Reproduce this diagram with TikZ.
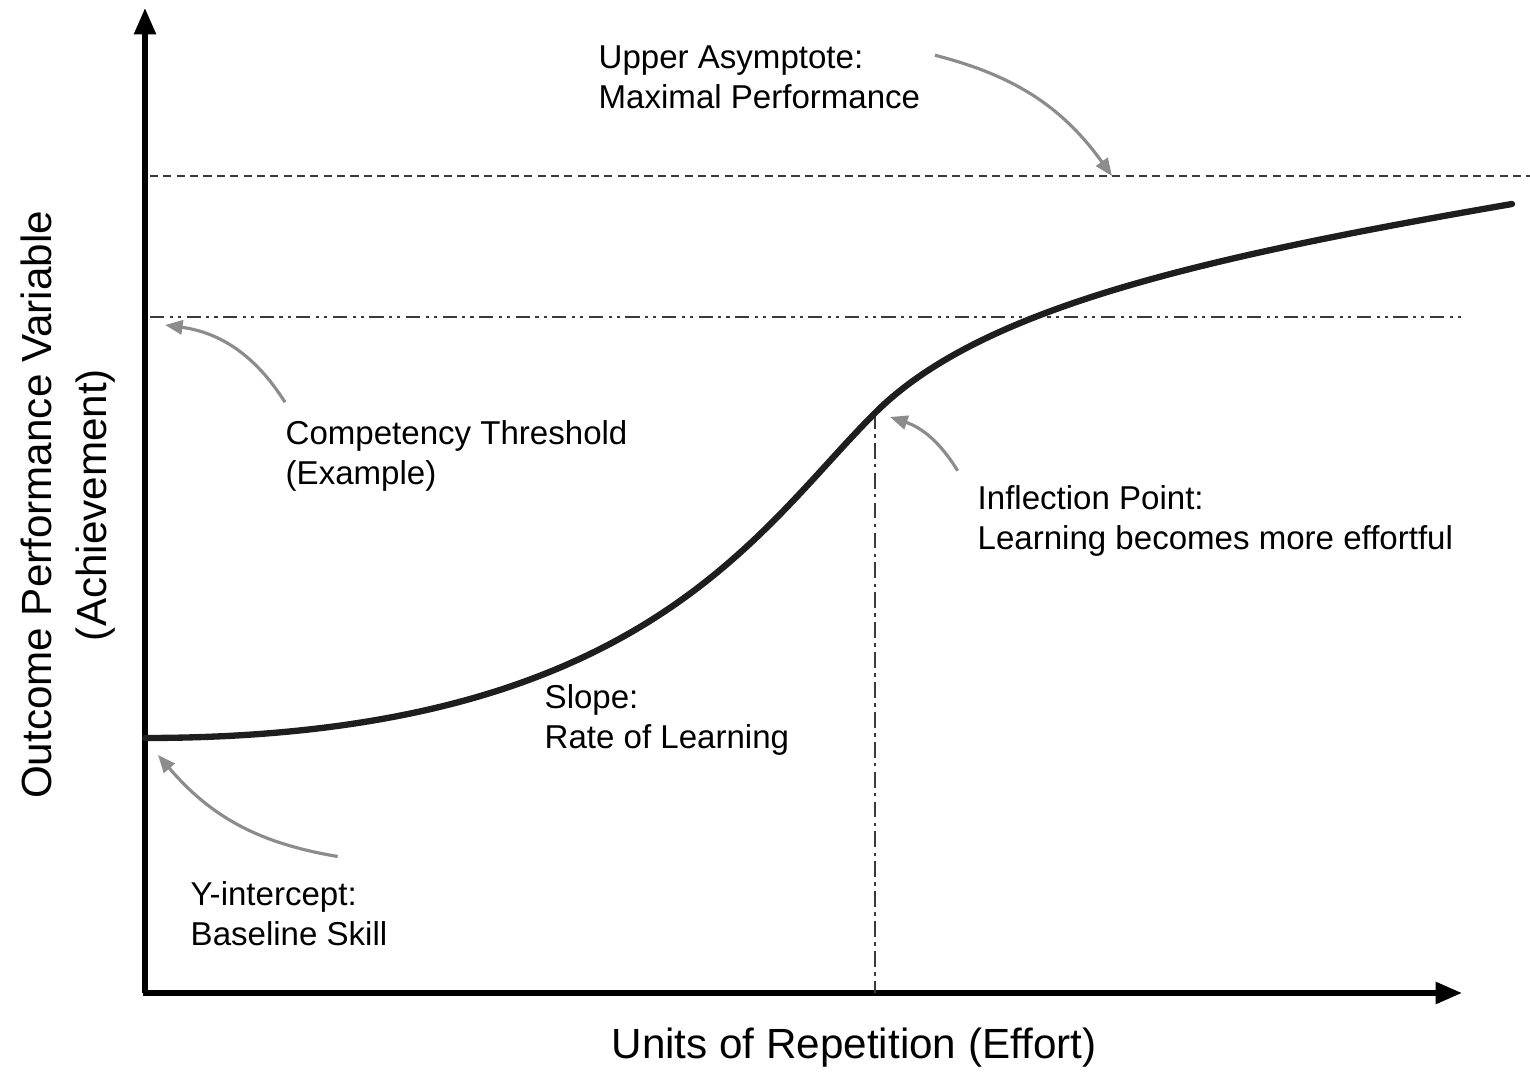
\documentclass[tikz,border=0pt]{standalone}
\usepackage{fontspec}
\setmainfont{Liberation Sans}
\usepackage{tikz}
\usetikzlibrary{
  arrows.meta,
  positioning,
  calc
}
\definecolor{lcAxis}{HTML}{000000}
\definecolor{lcCurve}{HTML}{1E1E1E}
\definecolor{lcNote}{HTML}{8C8C8C}
\definecolor{lcGuide}{HTML}{3A3A3A}

\begin{document}
\begin{tikzpicture}[x=0.01cm, y=-0.01cm,
  axis/.style={line width=1.5pt, lcAxis, -{Triangle[length=7.5pt, width=6pt]}},
  curve/.style={line width=1.8pt, lcCurve, line cap=round},
  guide/.style={line width=0.7pt, lcGuide},
  note/.style={line width=0.9pt, lcNote, -{Triangle[length=5pt, width=4pt]}},
  lbl/.style={font=\fontsize{9.4}{11.4}\selectfont, align=left, inner sep=0pt, anchor=west},
  axlbl/.style={font=\fontsize{12}{15.6}\selectfont, align=center, inner sep=0pt}]
  \useasboundingbox (0,0) rectangle (1530,1074);
  % axes
  \coordinate (o) at (145,993);
  \coordinate (ytop) at (145,8);
  \coordinate (xend) at (1462,993);
  \draw[axis] (o) -- (ytop);
  \draw[axis] ([xshift=-0.7pt]o) -- (xend);
  % guide lines
  \draw[guide, dash pattern=on 2.3pt off 1.5pt] (150,176) -- (1530,176);
  \draw[guide, dash pattern=on 4pt off 1.6pt on 0.9pt off 1.4pt on 0.9pt off 1.6pt]
    (150,317) -- (1465,317);
  \coordinate (infl) at (875,413);
  \draw[guide, dash pattern=on 4.5pt off 1.5pt on 1pt off 1.5pt] (infl) -- (infl |- o);
  % learning curve
  \coordinate (base) at (145,738);
  \coordinate (top) at (1512,204);
  \draw[curve] (base) .. controls (640,738) and (755,533) .. (infl)
    .. controls (980,308) and (1200,258) .. (top);
  % labels
  \node[lbl] (lblAsym) at (598,77) {Upper Asymptote:\\Maximal Performance};
  \node[lbl] (lblComp) at (285,456) {Competency Threshold\\(Example)};
  \node[lbl] (lblInfl) at (977,521) {Inflection Point:\\Learning becomes more effortful};
  \node[lbl] (lblSlope) at (544,720) {Slope:\\Rate of Learning};
  \node[lbl] (lblYint) at (190,914) {Y-intercept:\\Baseline Skill};
  \node[axlbl] (lblX) at (854,1048) {Units of Repetition (Effort)};
  \node[axlbl, rotate=90] (lblY) at (68,505) {Outcome Performance Variable\\(Achievement)};
  % pointers
  \coordinate (tipAsym) at (1112,176);
  \coordinate (tipComp) at (165,325);
  \coordinate (tipInfl) at (890,417);
  \coordinate (tipYint) at (158,755);
  \draw[note] ([shift={(4pt,-3pt)}]lblAsym.north east) to[bend left=20] (tipAsym);
  \draw[note] ([yshift=5pt]lblComp.north west) to[bend right=25] (tipComp);
  \draw[note] ([shift={(-5.5pt,4pt)}]lblInfl.north west) to[bend right=20] (tipInfl);
  \draw[note] ([shift={(42pt,7pt)}]lblYint.north west) to[bend left=20] (tipYint);
\end{tikzpicture}
\end{document}
